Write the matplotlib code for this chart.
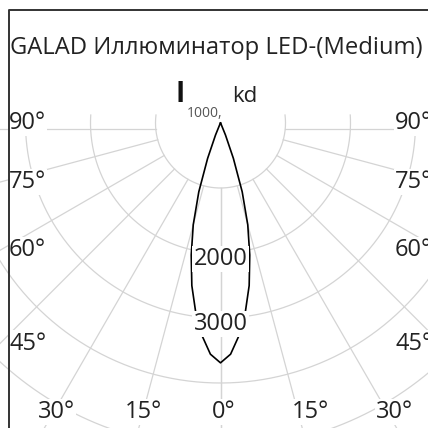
import matplotlib
matplotlib.use('Agg')
import matplotlib.pyplot as plt
import numpy as np

# luminous intensity curve, cd (symmetric about 0 deg)
angles = [0, 2.5, 5, 7.5, 10, 12.5, 15, 17.5, 20, 22.5, 25, 27.5, 30, 45, 60, 75, 90]
intensity = [3690, 3560, 3280, 2930, 2540, 2080, 1620, 1110, 580, 200, 30, 0, 0, 0, 0, 0, 0]

rings = [1000, 2000, 3000, 4000, 5000, 6000]
ring_labels = ['2000', '3000']
side_angles = [90, 75, 60, 45]
bottom_angles = [-30, -15, 0, 15, 30]
title = 'GALAD Иллюминатор LED-(Medium)'

plt.rcParams['font.family'] = ['Open Sans', 'DejaVu Sans']

# layout (pixels of the 428x428 image)
W = 428
CX, CY = 220.5, 123.0
K = 1000 / 65.0   # cd per pixel
bottom_nudge = [0, -3, 0, 10, 4]


def px(x, y):
    return (x - CX) * K, (CY - y) * K


fig = plt.figure(figsize=(4.28, 4.28), dpi=100)
ax = fig.add_axes([0, 0, 1, 1])
ax.set_xlim(-CX * K, (W - CX) * K)
ax.set_ylim((CY - W) * K, CY * K)
ax.axis('off')

grid = dict(color='#d4d4d4', lw=0.9, zorder=1)
top = 8 * K
for r in rings:
    tmax = np.arccos(-top / r)
    t = np.linspace(-tmax, tmax, 400)
    ax.plot(r * np.sin(t), -r * np.cos(t), **grid)

for a in [0, 15, 30, 45, 60, 75]:
    for s in (-1, 1):
        phi = np.radians(a * s)
        rr = np.array([1000, 9000])
        ax.plot(rr * np.sin(phi), -rr * np.cos(phi), **grid)
y90 = -6 * K
x0 = np.sqrt(1000 ** 2 - y90 ** 2)
ax.plot([-x0, -9000], [y90, y90], **grid)
ax.plot([x0, 9000], [y90, y90], **grid)

# curve
a_all = np.radians(np.concatenate([-np.array(angles[::-1]), np.array(angles[1:])]))
i_all = np.concatenate([np.array(intensity[::-1]), np.array(intensity[1:])])
ax.plot(i_all * np.sin(a_all), -i_all * np.cos(a_all), color='black', lw=1.2, zorder=3)

txt = '#222222'
box = dict(facecolor='white', edgecolor='none', boxstyle='square,pad=0.05')
for lab, r in zip(ring_labels, [2000, 3000]):
    ax.text(0, -r - 6 * K, lab, ha='center', va='center', fontsize=17, color=txt,
            bbox=box, zorder=5)

for a in side_angles:
    yy = CY + 220.5 / np.tan(np.radians(a)) if a != 90 else CY
    for xx in (9, 395):
        ax.text(*px(xx, yy), f'{a}°', ha='left', va='center', fontsize=17, color=txt,
                bbox=box, zorder=5)

for a, dx in zip(bottom_angles, bottom_nudge):
    xx = CX + (412 - CY) * np.tan(np.radians(a)) + 3 + dx
    ax.text(*px(xx, 412), f'{abs(a)}°', ha='center', va='center', fontsize=17, color=txt,
            bbox=box, zorder=5)

ax.text(*px(10, 48.5), title, ha='left', va='center', fontsize=17.1, color=txt, zorder=5)
ax.text(*px(175.5, 102), 'I', ha='left', va='baseline', fontsize=20, fontweight='bold',
        color='#111111', zorder=5)
ax.text(*px(187, 117), '1000,', ha='left', va='baseline', fontsize=10, color='#555555', zorder=5)
ax.text(*px(232, 102), 'kd', ha='left', va='baseline', fontsize=16, color=txt, zorder=5)

# frame
ax.plot(*zip(px(9, 428), px(9, 10), px(W + 5, 10)), color='#333333', lw=1.4,
        zorder=6, solid_capstyle='projecting', clip_on=False)

fig.savefig('out.png', dpi=100)
